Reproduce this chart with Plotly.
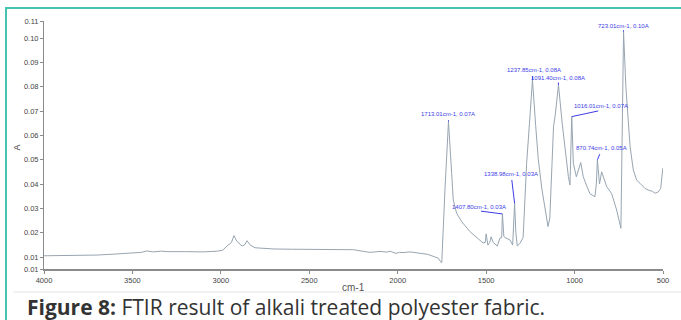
import plotly.graph_objects as go

# Spectrum (wavenumber cm-1, absorbance A)
wavenumber = [4000, 3900, 3800, 3700, 3600, 3500, 3450, 3420, 3380, 3340, 3300, 3200, 3100, 3020,
              2990, 2965, 2950, 2940, 2926, 2910, 2880, 2865, 2852, 2835, 2807, 2750, 2700, 2600,
              2500, 2400, 2300, 2250, 2200, 2157, 2100, 2060, 2044, 2010, 1990, 1970, 1931, 1900,
              1874, 1830, 1800, 1770, 1757, 1751, 1733, 1713, 1695, 1686, 1667, 1638, 1591, 1535,
              1518, 1505, 1500, 1490, 1480, 1472, 1460, 1437, 1422, 1412, 1408, 1400, 1393, 1365,
              1350, 1339, 1332, 1324, 1310, 1291, 1271, 1255, 1238, 1220, 1205, 1185, 1165, 1150,
              1140, 1125, 1119, 1110, 1091, 1070, 1049, 1035, 1026, 1016, 1007, 990, 965, 951,
              930, 913, 885, 877, 871, 859, 847, 830, 818, 790, 762, 738, 723, 710, 697, 686,
              668, 649, 630, 602, 583, 560, 545, 526, 513, 505, 501]
absorbance = [0.0105, 0.0106, 0.0104, 0.0108, 0.0112, 0.0116, 0.0119, 0.0125, 0.0121, 0.0124, 0.0122,
              0.0122, 0.0121, 0.0124, 0.0128, 0.0145, 0.0155, 0.0160, 0.0188, 0.0165, 0.0145, 0.0150,
              0.0167, 0.0150, 0.0138, 0.0134, 0.0133, 0.0132, 0.0131, 0.0131, 0.0128, 0.0130, 0.0124,
              0.0119, 0.0123, 0.0120, 0.0124, 0.0115, 0.0119, 0.0118, 0.0121, 0.0117, 0.0115, 0.0111,
              0.0103, 0.0095, 0.0080, 0.0077, 0.0375, 0.0656, 0.0444, 0.0334, 0.0280, 0.0245, 0.0204,
              0.0170, 0.0158, 0.0160, 0.0195, 0.0149, 0.0160, 0.0183, 0.0160, 0.0145, 0.0178, 0.0180,
              0.0277, 0.0185, 0.0180, 0.0170, 0.0149, 0.0320, 0.0200, 0.0145, 0.0155, 0.0180, 0.0485,
              0.0650, 0.0828, 0.0640, 0.0500, 0.0380, 0.0280, 0.0225, 0.0260, 0.0550, 0.0636, 0.0680,
              0.0807, 0.0650, 0.0500, 0.0430, 0.0396, 0.0677, 0.0485, 0.0430, 0.0488, 0.0430, 0.0390,
              0.0360, 0.0348, 0.0400, 0.0500, 0.0400, 0.0450, 0.0410, 0.0389, 0.0360, 0.0293, 0.0218,
              0.1026, 0.0800, 0.0663, 0.0553, 0.0458, 0.0416, 0.0403, 0.0382, 0.0375, 0.0370, 0.0362,
              0.0368, 0.0382, 0.0430, 0.0465]

# Labelled peaks
peak_wn = [1713.01, 1407.80, 1338.98, 1237.85, 1091.40, 1016.01, 870.74, 723.01]
peak_a = [0.0656, 0.0277, 0.0320, 0.0828, 0.0807, 0.0677, 0.0500, 0.1026]

x_ticks = [4000, 3500, 3000, 2500, 2000, 1500, 1000, 500]
y_ticks = [0.00507, 0.01, 0.02, 0.03, 0.04, 0.05, 0.06, 0.07, 0.08, 0.09, 0.10, 0.107]
y_tick_text = ["0.01", "0.01", "0.02", "0.03", "0.04", "0.05", "0.06", "0.07", "0.08", "0.09", "0.10", "0.11"]

caption_bold = "Figure 8:"
caption_text = " FTIR result of alkali treated polyester fabric."

SANS = "Liberation Sans, Arial, sans-serif"
LABEL_BLUE = "#3c3ce6"

# (leader start offset ax, ay ; text shift dx, dy) in pixels, per peak
leader = [(0, -3, 0, 8), (-23, -3, -23, 7), (-3, -25, -4, 29), (0, -5, 1, 10),
          (0, -4, 0, 7), (28, -6, 29, 11), (3, -7, 4, 12), (0, -3, 0, 6)]

fig = go.Figure()
fig.add_trace(go.Scatter(x=wavenumber, y=absorbance, mode="lines",
                         line=dict(color="#97a5b1", width=1), hoverinfo="skip",
                         showlegend=False))

annotations = []
for wn, a, (ax, ay, dx, dy) in zip(peak_wn, peak_a, leader):
    annotations.append(dict(x=wn, y=a, xref="x", yref="y", text="", showarrow=True,
                            arrowhead=0, arrowwidth=1, arrowcolor=LABEL_BLUE,
                            ax=ax, ay=ay, standoff=0, startstandoff=0,
                            font=dict(size=1)))
    annotations.append(dict(x=wn, y=a, xref="x", yref="y",
                            text=f"{wn:.2f}cm-1, {a:.2f}A", showarrow=False,
                            xshift=dx, yshift=dy, xanchor="center", yanchor="middle",
                            font=dict(family=SANS, size=6, color=LABEL_BLUE)))

# caption
annotations.append(dict(x=-0.0307, y=-0.155, xref="paper", yref="paper",
                        xanchor="left", yanchor="middle", showarrow=False,
                        text=f"<b>{caption_bold}</b>{caption_text}",
                        font=dict(family="Open Sans", size=21, color="#333333")))
# axis title "A"
annotations.append(dict(x=-0.0436, y=0.49, xref="paper", yref="paper", text="A",
                        showarrow=False, textangle=-90, xanchor="center", yanchor="middle",
                        font=dict(family=SANS, size=9, color="#444444")))
# axis title "cm-1"
annotations.append(dict(x=0.4995, y=-0.073, xref="paper", yref="paper", text="cm-1",
                        showarrow=False, xanchor="center", yanchor="middle",
                        font=dict(family=SANS, size=10, color="#555555")))

shapes = [
    dict(type="line", xref="paper", yref="paper", x0=-0.0614, x1=1.03, y0=1.0524, y1=1.0524,
         line=dict(color="#46c3ae", width=2)),
    dict(type="line", xref="paper", yref="paper", x0=-0.0614, x1=-0.0614, y0=1.0564, y1=-0.21,
         line=dict(color="#46c3ae", width=2)),
    dict(type="line", xref="paper", yref="paper", x0=-0.0501, x1=1.03, y0=-0.0927, y1=-0.0927,
         line=dict(color="#e6e6e6", width=1)),
]

fig.update_layout(
    width=681, height=320,
    margin=dict(l=44, r=18, t=21, b=51),
    paper_bgcolor="white", plot_bgcolor="white",
    annotations=annotations, shapes=shapes,
    showlegend=False,
)
fig.update_xaxes(range=[4000, 500], tickvals=x_ticks, ticktext=[str(v) for v in x_ticks],
                 showgrid=False, zeroline=False, showline=True, linecolor="#8a8a8a", linewidth=1.5,
                 ticks="outside", ticklen=3, tickcolor="#8a8a8a",
                 tickfont=dict(family=SANS, size=7.5, color="#444444"))
fig.update_yaxes(range=[0.00507, 0.107], tickvals=y_ticks, ticktext=y_tick_text,
                 showgrid=False, zeroline=False, showline=True, linecolor="#8a8a8a", linewidth=1,
                 ticks="outside", ticklen=3, tickcolor="#8a8a8a",
                 tickfont=dict(family=SANS, size=7.5, color="#444444"))

fig.write_html("out.html", config={"displayModeBar": False},
               post_script="document.body.style.margin='0';document.body.style.overflow='hidden';")
